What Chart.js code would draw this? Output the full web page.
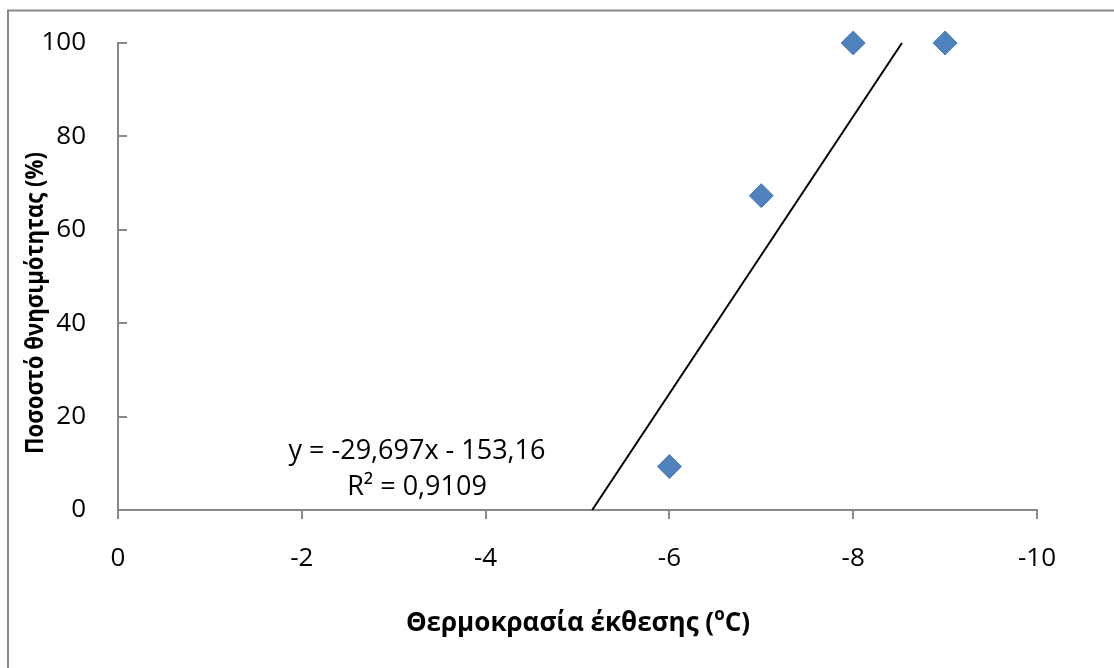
<!DOCTYPE html>
<html>
<head>
<meta charset="utf-8">
<script src="https://cdn.jsdelivr.net/npm/chart.js@4.4.1/dist/chart.umd.min.js"></script>
<style>
    body { margin: 0; background: #ffffff; overflow: hidden; }
    #chart { display: block; }
</style>
</head>
<body>
<canvas id="chart" width="1114" height="668"></canvas>
<script>
// Data
const temps = [-6, -7, -8, -9];
const mortality = [9.3, 67.3, 100, 100];
// trendline end points (y = -29,697x - 153,16 between y=0 and y=100)
const trendX = [-5.16, -8.53];
const trendY = [0, 100];
const xTicks = [0, -2, -4, -6, -8, -10];
const yTicks = [0, 20, 40, 60, 80, 100];
const equationLines = ['y = -29,697x - 153,16', 'R² = 0,9109'];

const FONT = '"Open Sans", sans-serif';
const AXIS_GREY = '#888888';

// Extra drawing: frame, inward y ticks, titles and equation
const extrasPlugin = {
    id: 'extras',
    beforeDraw(chart) {
        const ctx = chart.ctx;
        ctx.save();
        ctx.strokeStyle = '#8a8a8a';
        ctx.lineWidth = 2;
        ctx.beginPath();
        ctx.moveTo(8, 700);
        ctx.lineTo(8, 10.5);
        ctx.lineTo(1200, 10.5);
        ctx.stroke();
        ctx.restore();
    },
    afterDraw(chart) {
        const ctx = chart.ctx;
        const area = chart.chartArea;
        const yScale = chart.scales.y;
        ctx.save();

        // y tick marks point into the plot area
        ctx.strokeStyle = AXIS_GREY;
        ctx.lineWidth = 2;
        yTicks.forEach(v => {
            const py = Math.round(yScale.getPixelForValue(v));
            ctx.beginPath();
            ctx.moveTo(area.left, py);
            ctx.lineTo(area.left + 9, py);
            ctx.stroke();
        });

        // trendline equation
        ctx.fillStyle = '#000000';
        ctx.font = '27px ' + FONT;
        ctx.textAlign = 'center';
        ctx.textBaseline = 'middle';
        ctx.fillText(equationLines[0], 417, 451);
        ctx.fillText(equationLines[1], 417, 487);

        // x axis title with superscript o
        const part1 = 'Θερμοκρασία έκθεσης (';
        const part3 = 'C)';
        ctx.font = 'bold 26px ' + FONT;
        const w1 = ctx.measureText(part1).width;
        const w3 = ctx.measureText(part3).width;
        ctx.font = 'bold 17px ' + FONT;
        const w2 = ctx.measureText('o').width;
        const total = w1 + w2 + w3;
        const x = 578 - total / 2;
        ctx.textAlign = 'left';
        ctx.textBaseline = 'alphabetic';
        ctx.font = 'bold 26px ' + FONT;
        ctx.fillText(part1, x, 631);
        ctx.font = 'bold 17px ' + FONT;
        ctx.fillText('o', x + w1, 620);
        ctx.font = 'bold 26px ' + FONT;
        ctx.fillText(part3, x + w1 + w2, 631);

        // y axis title
        ctx.font = 'bold 25px ' + FONT;
        ctx.translate(36, 303);
        ctx.rotate(-Math.PI / 2);
        ctx.textAlign = 'center';
        ctx.textBaseline = 'middle';
        ctx.fillText('Ποσοστό θνησιμότητας (%)', 0, 0, 302);

        ctx.restore();
    }
};

const ctx = document.getElementById('chart');

const config = {
    type: 'scatter',
    data: {
        datasets: [
            {
                label: 'Θνησιμότητα',
                data: temps.map((t, i) => ({ x: t, y: mortality[i] })),
                pointStyle: 'rectRot',
                pointRadius: 12,
                pointHoverRadius: 12,
                backgroundColor: '#4F81BD',
                borderColor: '#4A7EBB',
                borderWidth: 1,
                clip: false,
                order: 2
            },
            {
                label: 'Γραμμική',
                data: trendX.map((t, i) => ({ x: t, y: trendY[i] })),
                showLine: true,
                pointRadius: 0,
                borderColor: '#000000',
                borderWidth: 2,
                clip: false,
                order: 1
            }
        ]
    },
    options: {
        responsive: false,
        animation: false,
        devicePixelRatio: 1,
        layout: {
            padding: { left: 0, right: 77, top: 43, bottom: 0 }
        },
        plugins: {
            legend: { display: false },
            tooltip: { enabled: false }
        },
        scales: {
            x: {
                type: 'linear',
                reverse: true,
                min: -10,
                max: 0,
                afterBuildTicks: scale => {
                    scale.ticks = xTicks.map(v => ({ value: v }));
                },
                afterFit: scale => {
                    scale.height = 158;
                    scale.paddingLeft = 0;
                    scale.paddingRight = 0;
                },
                border: { display: true, color: AXIS_GREY, width: 2 },
                grid: {
                    drawOnChartArea: false,
                    drawTicks: true,
                    tickLength: 9,
                    color: AXIS_GREY,
                    lineWidth: 2
                },
                ticks: {
                    padding: 24,
                    maxRotation: 0,
                    color: '#000000',
                    font: { family: FONT, size: 26 }
                }
            },
            y: {
                type: 'linear',
                min: 0,
                max: 100,
                afterBuildTicks: scale => {
                    scale.ticks = yTicks.map(v => ({ value: v }));
                },
                afterFit: scale => {
                    scale.width = 118;
                    scale.paddingTop = 0;
                    scale.paddingBottom = 0;
                },
                border: { display: true, color: AXIS_GREY, width: 2 },
                grid: {
                    display: false,
                    drawTicks: false
                },
                ticks: {
                    padding: 32,
                    color: '#000000',
                    font: { family: FONT, size: 26 }
                }
            }
        }
    },
    plugins: [extrasPlugin]
};

new Chart(ctx, config);
</script>
</body>
</html>
